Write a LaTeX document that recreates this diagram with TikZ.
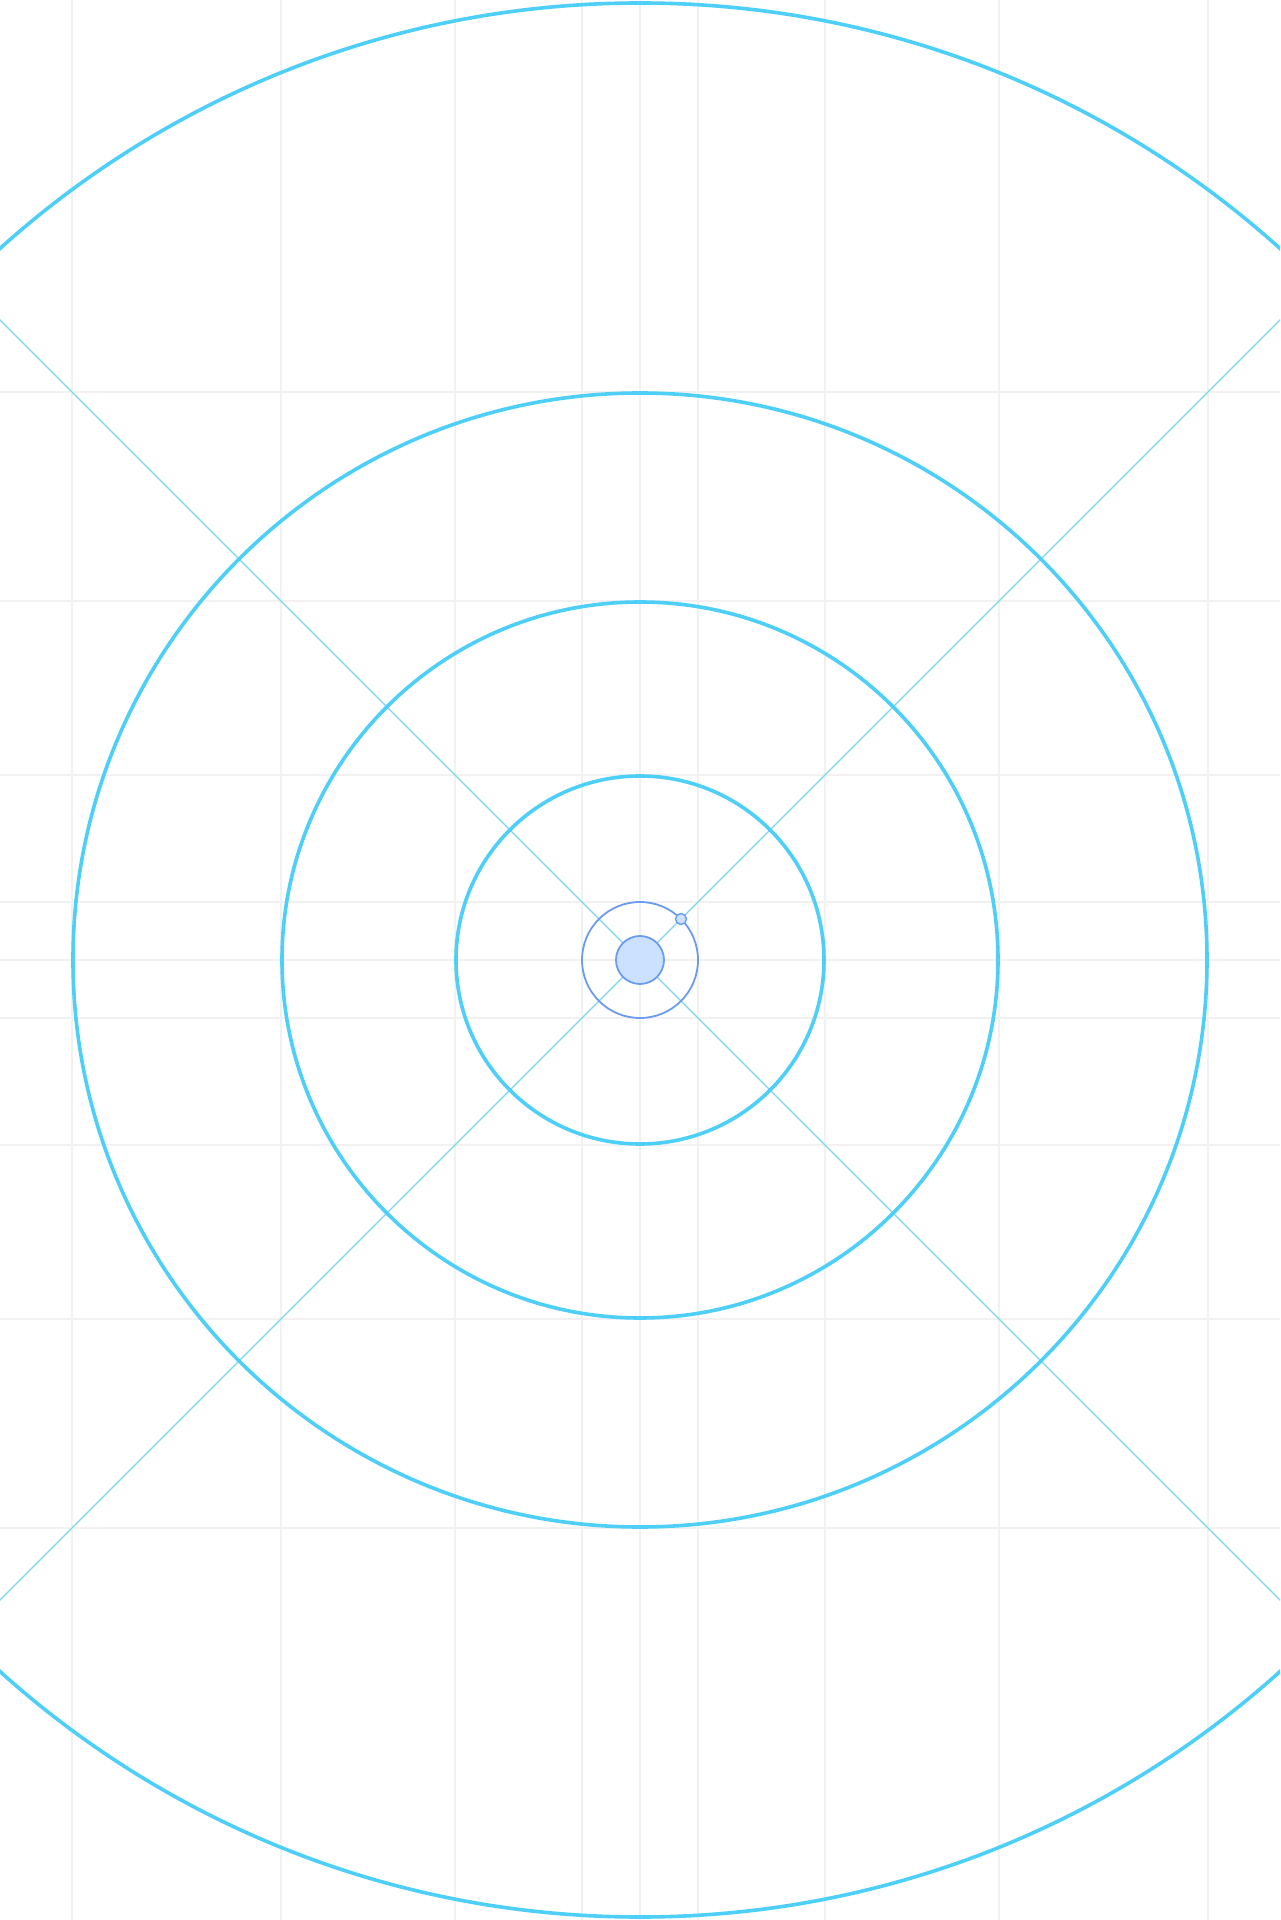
\documentclass[tikz,border=0pt]{standalone}
\definecolor{ringcyan}{HTML}{4DCFF8}
\definecolor{diagcyan}{HTML}{7DD6F6}
\definecolor{coreblue}{HTML}{6A9CF0}
\definecolor{corefill}{HTML}{CCE0FF}
\definecolor{gridgray}{HTML}{F1F1F1}
\begin{document}
\begin{tikzpicture}[x=0.5pt,y=0.5pt,
  ring/.style={circle,draw=ringcyan,line width=1.8pt,inner sep=0pt,minimum size={#1*0.5pt}},
  corering/.style={circle,draw=coreblue,line width=0.9pt,inner sep=0pt,minimum size={#1*0.5pt}},
  gridline/.style={draw=gridgray,line width=0.65pt},
  diag/.style={draw=diagcyan,line width=0.7pt}]
\useasboundingbox (-640,-960) rectangle (640,960);
\clip (-640,-960) rectangle (640,960);
\fill[white] (-640,-960) rectangle (640,960);
% grid
\foreach \d in {-568,-359,-185,-58,0,58,185,359,568}{
  \path[gridline] (\d,-960) -- (\d,960);
  \path[gridline] (-640,\d) -- (640,\d);
}
% diagonals
\coordinate (tl) at (-1000,1000);
\coordinate (br) at (1000,-1000);
\coordinate (tr) at (1000,1000);
\coordinate (bl) at (-1000,-1000);
\path[diag] (tl) -- (br);
\path[diag] (bl) -- (tr);
% rings
\node[ring=1914] (r1) at (0,0) {};
\node[ring=1134] (r2) at (0,0) {};
\node[ring=716] (r3) at (0,0) {};
\node[ring=368] (r4) at (0,0) {};
\node[corering=116] (r5) at (0,0) {};
\node[corering=48,fill=corefill] (core) at (0,0) {};
\node[corering=11,fill=corefill,line width=0.7pt] (sat) at (45:58) {};
\end{tikzpicture}
\end{document}
